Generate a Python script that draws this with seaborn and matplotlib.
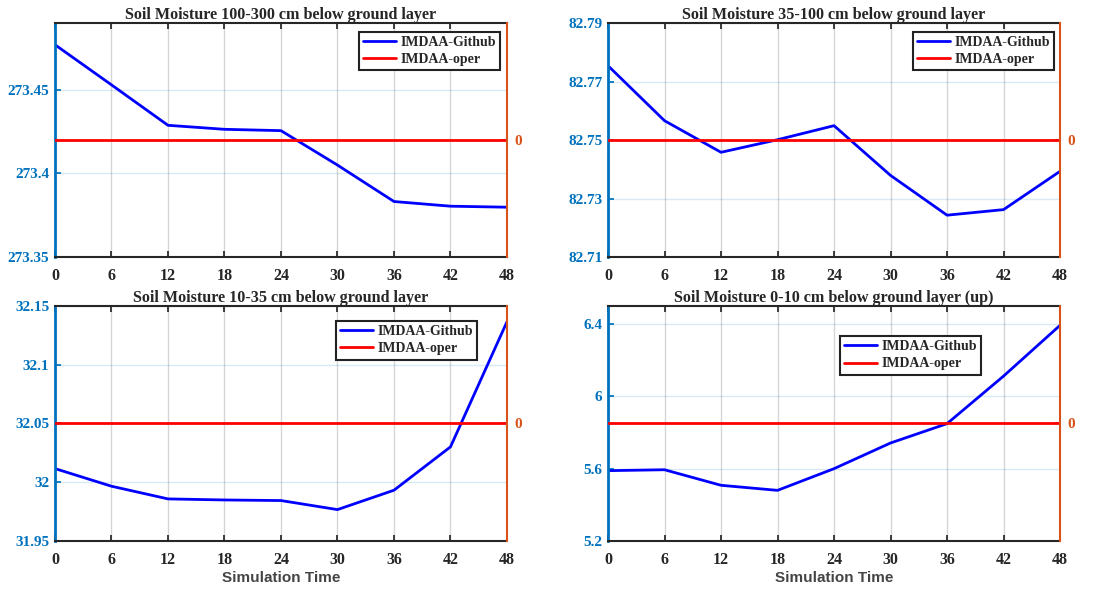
import numpy as np
import pandas as pd
import matplotlib
matplotlib.use("Agg")
import matplotlib.pyplot as plt
import seaborn as sns

# simulation hours
hours = [0, 6, 12, 18, 24, 30, 36, 42, 48]

# IMDAA-Github soil moisture per layer
sm_100_300 = [273.477, 273.453, 273.4288, 273.4264, 273.4256, 273.405, 273.3832, 273.3804, 273.3798]
sm_35_100 = [82.7754, 82.7566, 82.7458, 82.7501, 82.7549, 82.7379, 82.7243, 82.7262, 82.7393]
sm_10_35 = [32.0116, 31.9966, 31.9858, 31.9849, 31.9844, 31.9767, 31.9932, 32.0301, 32.1366]
sm_0_10 = [5.589, 5.594, 5.508, 5.480, 5.600, 5.742, 5.849, 6.112, 6.393]

# IMDAA-oper drawn on the right axis (difference = 0)
oper = [0, 0, 0, 0, 0, 0, 0, 0, 0]

titles = [
    "Soil Moisture 100-300 cm below ground layer",
    "Soil Moisture 35-100 cm below ground layer",
    "Soil Moisture 10-35 cm below ground layer",
    "Soil Moisture 0-10 cm below ground layer (up)",
]
ylims = [(273.35, 273.49), (82.71, 82.79), (31.95, 32.15), (5.2, 6.5)]
yticks = [
    [273.35, 273.4, 273.45],
    [82.71, 82.73, 82.75, 82.77, 82.79],
    [31.95, 32, 32.05, 32.1, 32.15],
    [5.2, 5.6, 6, 6.4],
]
series = [sm_100_300, sm_35_100, sm_10_35, sm_0_10]

sns.set_theme(style="white")
plt.rcParams['font.family'] = ['Liberation Serif', 'DejaVu Serif']

LEFT_C = '#0072BD'
RIGHT_C = '#D95319'

fig = plt.figure(figsize=(11.15, 5.9), dpi=100)
positions = [
    [0.0493, 0.5644, 0.4054, 0.3966],
    [0.5453, 0.5644, 0.4054, 0.3966],
    [0.0493, 0.0831, 0.4054, 0.3983],
    [0.5453, 0.0831, 0.4054, 0.3983],
]
legend_anchor = [(0.985, 0.962), (0.987, 0.962), (0.934, 0.936), (0.825, 0.872)]

for i in range(4):
    ax = fig.add_axes(positions[i])
    df = pd.DataFrame({'time': hours, 'value': series[i], 'oper': oper})
    sns.lineplot(data=df, x='time', y='value', ax=ax, color='#0000FF', linewidth=2,
                 label='IMDAA-Github', legend=False)
    ax.set_xlim(0, 48)
    ax.set_ylim(*ylims[i])
    ax.set_xticks(hours)
    ax.set_yticks(yticks[i])
    ax.set_yticklabels([f"{v:g}" for v in yticks[i]])
    ax.set_ylabel('')
    ax.set_xlabel('Simulation Time' if i >= 2 else '', fontfamily='Liberation Sans',
                  fontweight='bold', fontsize=11, color='#444444', labelpad=2)

    # grid: vertical grey, horizontal light blue
    ax.xaxis.grid(True, color='#888888', alpha=0.35, linewidth=1)
    ax.yaxis.grid(True, color=LEFT_C, alpha=0.15, linewidth=1)

    ax.tick_params(axis='x', direction='in', top=True, bottom=True, length=4,
                   color='#262626', labelcolor='#262626', labelsize=11.5, pad=8)
    ax.tick_params(axis='y', direction='in', left=True, right=True, length=4,
                   color=LEFT_C, labelcolor=LEFT_C, labelsize=11, pad=4)
    for lab in ax.get_xticklabels() + ax.get_yticklabels():
        lab.set_fontweight('bold')

    for side in ['top', 'bottom']:
        ax.spines[side].set_color('#262626')
        ax.spines[side].set_linewidth(1.5)
    ax.spines['left'].set_color(LEFT_C)
    ax.spines['left'].set_linewidth(2)

    ax2 = ax.twinx()
    sns.lineplot(data=df, x='time', y='oper', ax=ax2, color='#FF0000', linewidth=2,
                 label='IMDAA-oper', legend=False)
    ax2.set_ylim(-1, 1)
    ax2.set_yticks([0])
    ax2.set_ylabel('')
    ax2.tick_params(axis='y', direction='in', length=4, color=RIGHT_C,
                    labelcolor=RIGHT_C, labelsize=11, pad=5)
    for lab in ax2.get_yticklabels():
        lab.set_fontweight('bold')
    ax2.spines['right'].set_color(RIGHT_C)
    ax2.spines['right'].set_linewidth(1.5)
    ax2.spines['left'].set_visible(False)
    ax2.spines['top'].set_visible(False)
    ax2.spines['bottom'].set_visible(False)

    ax.set_title(titles[i], fontweight='bold', fontsize=11.6, pad=3)

    h1, l1 = ax.get_legend_handles_labels()
    h2, l2 = ax2.get_legend_handles_labels()
    leg = ax2.legend(h1 + h2, l1 + l2, loc='upper right', bbox_to_anchor=legend_anchor[i],
                     borderaxespad=0, fancybox=False, framealpha=1, edgecolor='#222222',
                     prop={'family': 'Liberation Serif', 'weight': 'bold', 'size': 10},
                     handlelength=2.4, handletextpad=0.3, borderpad=0.3, labelspacing=0.3)
    leg.get_frame().set_linewidth(1.5)

fig.savefig('out.png', dpi=100)
